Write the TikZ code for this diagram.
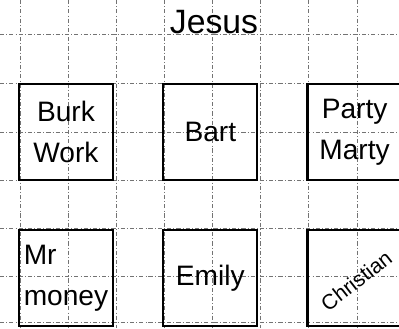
\documentclass[tikz,border=0pt]{standalone}
\usepackage{fontspec}
\setmainfont{Liberation Sans}
\usetikzlibrary{positioning}

\begin{document}
\begin{tikzpicture}[
  x=0.025cm, y=-0.025cm,
  gridline/.style = {dash pattern=on 3pt off 1.5pt on 0.6pt off 1.5pt, black!55, line width=0.5pt},
  card/.style     = {draw, line width=1.6pt, minimum width=2.35cm, minimum height=2.4cm,
                     align=center, font=\fontsize{20}{29}\selectfont},
  node distance   = 1.2cm,
]
  \useasboundingbox (0,0) rectangle (399,328);

  % graph paper
  \foreach \gx in {20,68,116,164,212,260,308,357}
    \draw[gridline] (\gx,0) -- (\gx,328);
  \foreach \gy in {34,83,132,180,228,276,322}
    \draw[gridline] (0,\gy) -- (399,\gy);

  \node[font=\fontsize{24}{28}\selectfont] (jesus) at (214,22) {Jesus};

  \node[card]                            (burk)      at (66,132) {Burk\\Work};
  \node[card, right=of burk]             (bart)      {Bart};
  \node[card, right=of bart]             (party)     {Party\\Marty};
  \node[card, below=of burk, align=left] (money)     {Mr\\money};
  \node[card, right=of money]            (emily)     {Emily};
  \node[card, right=of emily,
        label={[rotate=38, font=\fontsize{15}{18}\selectfont, yshift=-2pt]center:Christian}]
                                         (christian) {};
\end{tikzpicture}
\end{document}
